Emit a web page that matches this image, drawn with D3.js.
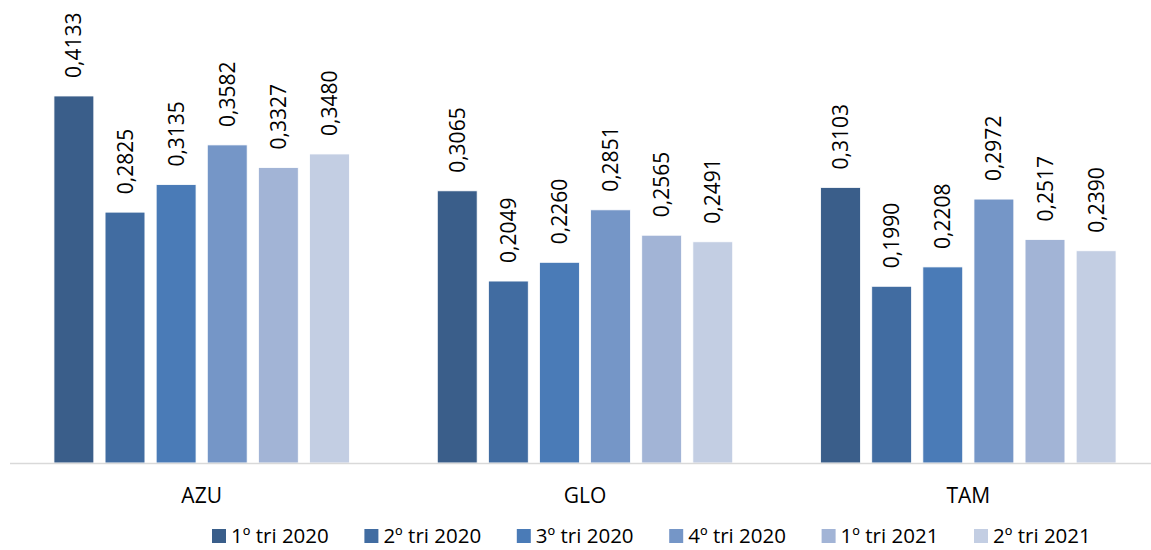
<!DOCTYPE html>
<html lang="pt">
<head>
    <meta charset="utf-8" />
    <title>Tarifa por companhia</title>
    <script src="https://d3js.org/d3.v7.min.js"></script>
    <style>
        body { margin: 0; background: #fff; }
        text { font-family: "Open Sans", "Noto Sans", sans-serif; fill: #000; }
    </style>
</head>
<body>
<script>
    var w = 1151;
    var h = 550;

    // categories, series and values
    var companies = ["AZU", "GLO", "TAM"];
    var periods = ["1º tri 2020", "2º tri 2020", "3º tri 2020", "4º tri 2020", "1º tri 2021", "2º tri 2021"];
    var colors = ["#3A5E8A", "#416CA1", "#4A7BB7", "#7596C7", "#A2B4D6", "#C3CEE3"];
    var valuesAZU = [0.4133, 0.2825, 0.3135, 0.3582, 0.3327, 0.3480];
    var valuesGLO = [0.3065, 0.2049, 0.2260, 0.2851, 0.2565, 0.2491];
    var valuesTAM = [0.3103, 0.1990, 0.2208, 0.2972, 0.2517, 0.2390];
    var allValues = [valuesAZU, valuesGLO, valuesTAM];

    var baseY = 463;

    var x0 = d3.scaleBand()
        .domain(companies)
        .range([10, 1160])
        .paddingInner(0.2)
        .paddingOuter(0.1);

    var x1 = d3.scaleBand()
        .domain(periods)
        .range([0, x0.bandwidth()])
        .paddingInner(0.22)
        .paddingOuter(0.11);

    var y = d3.scaleLinear()
        .domain([0, 0.5])
        .range([baseY, 19]);

    var svg = d3.select("body")
        .append("svg")
        .attr("width", w)
        .attr("height", h);

    // one group per company
    var groups = svg.selectAll("g.company")
        .data(companies)
        .enter()
        .append("g")
        .attr("class", "company")
        .attr("transform", function(d) {
            return "translate(" + x0(d) + ",0)";
        });

    groups.selectAll("rect")
        .data(function(d, i) {
            return periods.map(function(p, j) {
                return { period: p, value: allValues[i][j], color: colors[j] };
            });
        })
        .enter()
        .append("rect")
        .attr("x", function(d) { return x1(d.period); })
        .attr("y", function(d) { return y(d.value); })
        .attr("width", x1.bandwidth())
        .attr("height", function(d) { return baseY - y(d.value); })
        .attr("fill", function(d) { return d.color; })
        .attr("stroke", "#fff")
        .attr("stroke-width", 0.8);

    // rotated value labels above bars
    groups.selectAll("text.val")
        .data(function(d, i) {
            return periods.map(function(p, j) {
                return { period: p, value: allValues[i][j] };
            });
        })
        .enter()
        .append("text")
        .attr("class", "val")
        .attr("transform", function(d) {
            var cx = x1(d.period) + x1.bandwidth() / 2;
            var cy = y(d.value) - 18;
            return "translate(" + cx + "," + cy + ") rotate(-90)";
        })
        .attr("dy", "0.36em")
        .attr("font-size", "21px")
        .text(function(d) {
            return d.value.toFixed(4).replace(".", ",");
        });

    // x axis line
    svg.append("line")
        .attr("x1", 10)
        .attr("x2", w)
        .attr("y1", baseY + 0.5)
        .attr("y2", baseY + 0.5)
        .attr("stroke", "#D9D9D9")
        .attr("stroke-width", 1.5);

    // category labels
    svg.selectAll("text.cat")
        .data(companies)
        .enter()
        .append("text")
        .attr("class", "cat")
        .attr("x", function(d) { return x0(d) + x0.bandwidth() / 2; })
        .attr("y", 503)
        .attr("text-anchor", "middle")
        .attr("font-size", "21px")
        .text(function(d) { return d; });

    // legend
    var legendX = d3.scalePoint()
        .domain(periods)
        .range([212, 974]);

    var legend = svg.selectAll("g.legend")
        .data(periods)
        .enter()
        .append("g")
        .attr("class", "legend")
        .attr("transform", function(d) {
            return "translate(" + legendX(d) + ",0)";
        });

    legend.append("rect")
        .attr("x", 0)
        .attr("y", 529)
        .attr("width", 14)
        .attr("height", 14)
        .attr("fill", function(d, i) { return colors[i]; });

    legend.append("text")
        .attr("x", 19)
        .attr("y", 543)
        .attr("font-size", "20.5px")
        .text(function(d) { return d; });
</script>
</body>
</html>
